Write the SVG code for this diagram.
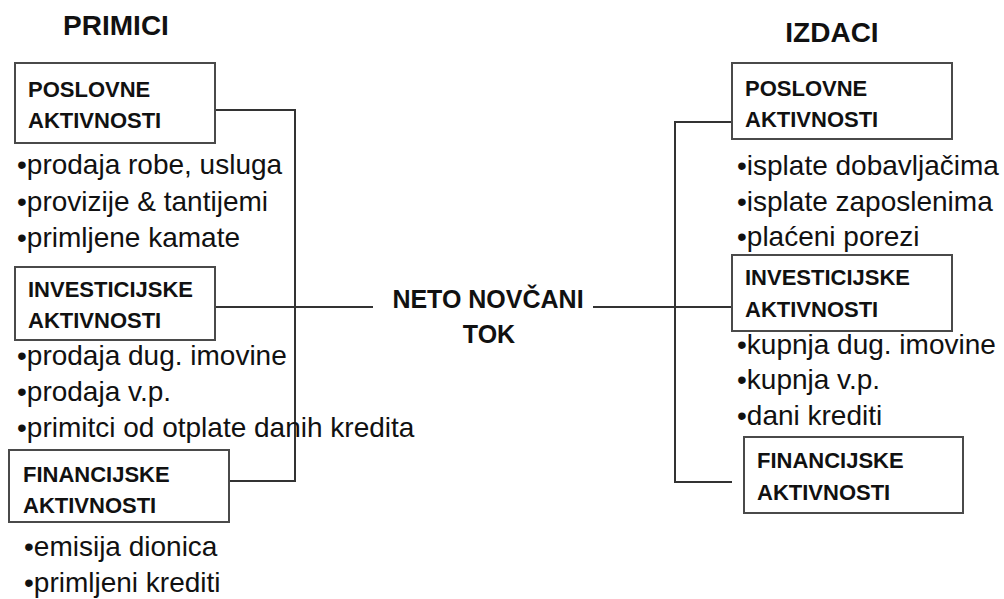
<svg xmlns="http://www.w3.org/2000/svg" width="1004" height="599" viewBox="0 0 1004 599">
<style>
.box{fill:#fff;stroke:#4a4a4a;stroke-width:2}
.lbl{font-family:"Liberation Sans",Arial,sans-serif;font-weight:bold;font-size:22px;fill:#111}
.itm{font-family:"Liberation Sans",Arial,sans-serif;font-size:28px;fill:#111}
.ttl{font-family:"Liberation Sans",Arial,sans-serif;font-weight:bold;font-size:28px;fill:#111;text-anchor:middle}
.ctr{font-family:"Liberation Sans",Arial,sans-serif;font-weight:bold;font-size:25px;fill:#111;text-anchor:middle}
.con{fill:none;stroke:#333;stroke-width:2}
</style>
<rect width="1004" height="599" fill="#fff"/>
<g id="connectors">
<polyline class="con" points="215,110 295,110 295,481 229,481"/>
<line class="con" x1="215" y1="307" x2="373" y2="307"/>
<line class="con" x1="593" y1="307" x2="732" y2="307"/>
<polyline class="con" points="732,122 675,122 675,482 732,482"/>
</g>
<g id="title-primici"><text class="ttl" x="116" y="35">PRIMICI</text></g>
<g id="title-izdaci"><text class="ttl" x="832" y="42">IZDACI</text></g>
<g id="neto">
<text class="ctr" x="488" y="308">NETO NOVČANI</text>
<text class="ctr" x="489" y="343">TOK</text>
</g>
<g id="l-poslovne">
<rect class="box" x="15" y="63" width="200" height="80"/>
<text class="lbl" x="28" y="97">POSLOVNE</text>
<text class="lbl" x="28" y="128">AKTIVNOSTI</text>
</g>
<g id="l-poslovne-items">
<text class="itm" x="17" y="174">•prodaja robe, usluga</text>
<text class="itm" x="17" y="211">•provizije &amp; tantijemi</text>
<text class="itm" x="17" y="247">•primljene kamate</text>
</g>
<g id="l-investicijske">
<rect class="box" x="15" y="267" width="200" height="73"/>
<text class="lbl" x="28" y="297">INVESTICIJSKE</text>
<text class="lbl" x="28" y="328">AKTIVNOSTI</text>
</g>
<g id="l-investicijske-items">
<text class="itm" x="17" y="365">•prodaja dug. imovine</text>
<text class="itm" x="17" y="401">•prodaja v.p.</text>
<text class="itm" x="17" y="437">•primitci od otplate danih kredita</text>
</g>
<g id="l-financijske">
<rect class="box" x="9" y="450" width="220" height="72"/>
<text class="lbl" x="23" y="482">FINANCIJSKE</text>
<text class="lbl" x="23" y="513">AKTIVNOSTI</text>
</g>
<g id="l-financijske-items">
<text class="itm" x="24" y="556">•emisija dionica</text>
<text class="itm" x="24" y="592">•primljeni krediti</text>
</g>
<g id="r-poslovne">
<rect class="box" x="732" y="63" width="220" height="76"/>
<text class="lbl" x="745" y="96">POSLOVNE</text>
<text class="lbl" x="745" y="127">AKTIVNOSTI</text>
</g>
<g id="r-poslovne-items">
<text class="itm" x="737" y="175">•isplate dobavljačima</text>
<text class="itm" x="737" y="211">•isplate zaposlenima</text>
<text class="itm" x="737" y="246">•plaćeni porezi</text>
</g>
<g id="r-investicijske">
<rect class="box" x="732" y="255" width="220" height="76"/>
<text class="lbl" x="745" y="285">INVESTICIJSKE</text>
<text class="lbl" x="745" y="317">AKTIVNOSTI</text>
</g>
<g id="r-investicijske-items">
<text class="itm" x="737" y="354">•kupnja dug. imovine</text>
<text class="itm" x="737" y="389">•kupnja v.p.</text>
<text class="itm" x="737" y="425">•dani krediti</text>
</g>
<g id="r-financijske">
<rect class="box" x="744" y="437" width="219" height="76"/>
<text class="lbl" x="757" y="468">FINANCIJSKE</text>
<text class="lbl" x="757" y="500">AKTIVNOSTI</text>
</g>
</svg>
